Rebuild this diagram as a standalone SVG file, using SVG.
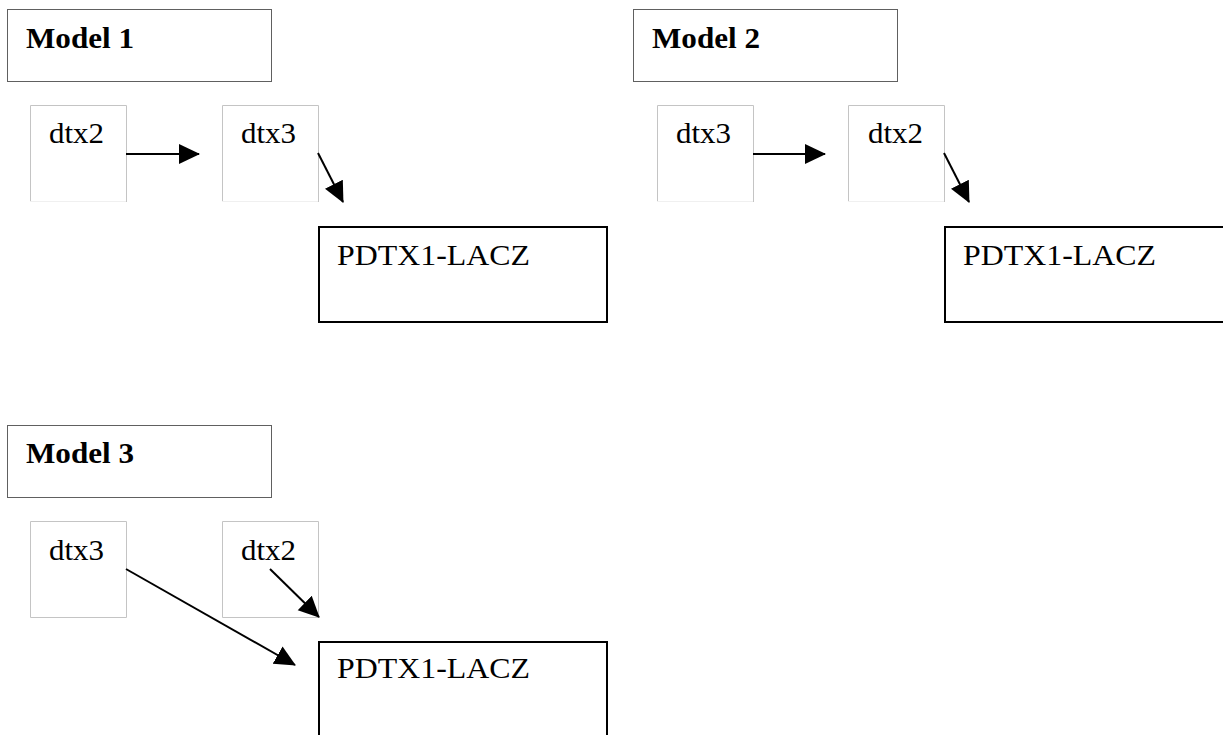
<svg xmlns="http://www.w3.org/2000/svg" width="1223" height="735" viewBox="0 0 1223 735">
<style>
.title{fill:#fff;stroke:#606060;stroke-width:1}
.tt{font-family:"Liberation Serif","Times New Roman",serif;font-weight:bold;font-size:30px;fill:#000}
.gene{fill:#fff;stroke:none}
.gs{fill:none;stroke:#c4c4c4;stroke-width:1}
.gb{fill:none;stroke:#f0f0f0;stroke-width:1}
.t{font-family:"Liberation Serif","Times New Roman",serif;font-size:29px;fill:#000}
.rep{fill:#fff;stroke:#000;stroke-width:2}
.edge{stroke:#000;stroke-width:2;fill:none;marker-end:url(#ah)}
</style>
<defs>
<marker id="ah" markerUnits="userSpaceOnUse" markerWidth="22" markerHeight="22" refX="20" refY="10" orient="auto" viewBox="0 0 22 20">
<path d="M0,0 L21,10 L0,20 Z" fill="#000"/>
</marker>
</defs>
<rect width="1223" height="735" fill="#fff"/>

<g id="model1-title"><rect class="title" x="7.5" y="9.5" width="264" height="72"/><text class="tt" x="26" y="48" textLength="108" lengthAdjust="spacingAndGlyphs">Model 1</text></g>
<g id="m1-dtx2"><rect class="gene" x="30" y="105" width="96" height="97"/><path class="gs" d="M30.5,202 V105.5 H126.5 V202"/><path class="gb" d="M30,201.5 H126"/><text class="t" x="49" y="143" textLength="55" lengthAdjust="spacingAndGlyphs">dtx2</text></g>
<g id="m1-dtx3"><rect class="gene" x="222" y="105" width="96" height="97"/><path class="gs" d="M222.5,202 V105.5 H318.5 V202"/><path class="gb" d="M222,201.5 H318"/><text class="t" x="241" y="143" textLength="55" lengthAdjust="spacingAndGlyphs">dtx3</text></g>
<g id="m1-pdtx"><rect class="rep" x="319" y="227" width="288" height="95"/><text class="t" x="337" y="265" textLength="193" lengthAdjust="spacingAndGlyphs">PDTX1-LACZ</text></g>

<g id="model2-title"><rect class="title" x="633.5" y="9.5" width="264" height="72"/><text class="tt" x="652" y="48" textLength="108" lengthAdjust="spacingAndGlyphs">Model 2</text></g>
<g id="m2-dtx3"><rect class="gene" x="657" y="105" width="96" height="97"/><path class="gs" d="M657.5,202 V105.5 H753.5 V202"/><path class="gb" d="M657,201.5 H753"/><text class="t" x="676" y="143" textLength="55" lengthAdjust="spacingAndGlyphs">dtx3</text></g>
<g id="m2-dtx2"><rect class="gene" x="848" y="105" width="96" height="97"/><path class="gs" d="M848.5,202 V105.5 H944.5 V202"/><path class="gb" d="M848,201.5 H944"/><text class="t" x="868" y="143" textLength="55" lengthAdjust="spacingAndGlyphs">dtx2</text></g>
<g id="m2-pdtx"><path class="rep" d="M1226,227 H945 V322 H1226"/><text class="t" x="963" y="265" textLength="193" lengthAdjust="spacingAndGlyphs">PDTX1-LACZ</text></g>

<g id="model3-title"><rect class="title" x="7.5" y="425.5" width="264" height="72"/><text class="tt" x="26" y="463" textLength="108" lengthAdjust="spacingAndGlyphs">Model 3</text></g>
<g id="m3-dtx3"><rect class="gene" x="30" y="521" width="96" height="96"/><path class="gs" d="M30.5,617.5 V521.5 H126.5 V617.5 Z"/><text class="t" x="49" y="560" textLength="55" lengthAdjust="spacingAndGlyphs">dtx3</text></g>
<g id="m3-dtx2"><rect class="gene" x="222" y="521" width="96" height="96"/><path class="gs" d="M222.5,617.5 V521.5 H318.5 V617.5 Z"/><text class="t" x="241" y="560" textLength="55" lengthAdjust="spacingAndGlyphs">dtx2</text></g>
<g id="m3-pdtx"><path class="rep" d="M319,740 V642 H607 V740"/><text class="t" x="337" y="678" textLength="193" lengthAdjust="spacingAndGlyphs">PDTX1-LACZ</text></g>

<g id="connectors">
<line class="edge" x1="126" y1="154" x2="199" y2="154"/>
<line class="edge" x1="318" y1="153" x2="343" y2="202"/>
<line class="edge" x1="753" y1="154" x2="825" y2="154"/>
<line class="edge" x1="944" y1="153" x2="969" y2="202"/>
<line class="edge" x1="126" y1="569" x2="295" y2="665"/>
<line class="edge" x1="270" y1="569" x2="319" y2="617"/>
</g>
</svg>
